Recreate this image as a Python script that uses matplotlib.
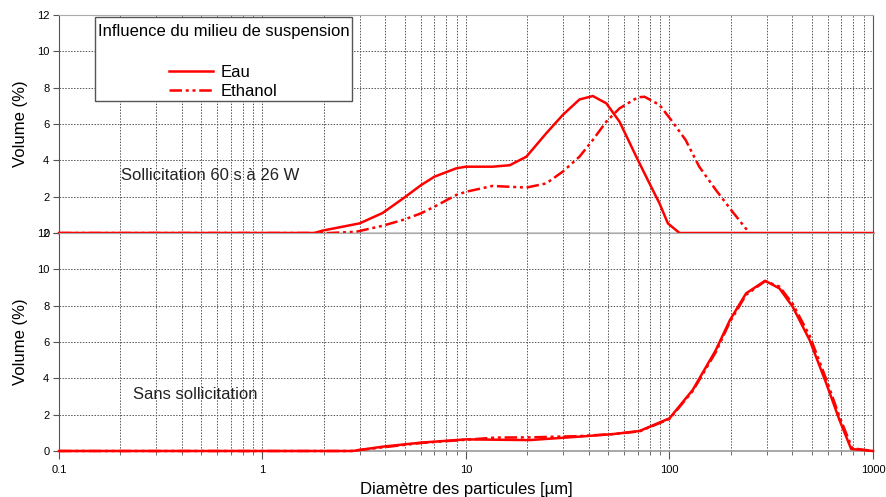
import matplotlib.pyplot as plt
from matplotlib.patches import Rectangle
from matplotlib.ticker import LogLocator, NullFormatter, FixedLocator

plt.rcParams['font.family'] = ['Liberation Sans', 'DejaVu Sans']

# particle size distributions, diameter in um, volume in %
d_eau_us = [0.1, 1.8, 1.97, 3.0, 3.89, 4.99, 6.02, 7.0, 8.95, 10, 13.5, 16.4, 19.8,
            24.8, 29.9, 36.1, 42.0, 48.9, 56.8, 69.9, 81.2, 89.3, 98.2, 112, 1000]
v_eau_us = [0, 0, 0.13, 0.53, 1.1, 1.96, 2.64, 3.1, 3.56, 3.65, 3.65, 3.73, 4.2,
            5.49, 6.5, 7.35, 7.54, 7.14, 6.13, 4.02, 2.55, 1.63, 0.53, 0.0, 0]

d_eth_us = [0.1, 2.13, 2.89, 3.9, 5.0, 6.0, 7.0, 8.95, 10, 13.5, 19.8, 24.8, 29.9,
            36.1, 42.0, 48.9, 56.8, 69.9, 75.4, 89.3, 101.9, 120, 140, 169, 204, 247]
v_eth_us = [0, 0, 0.07, 0.4, 0.75, 1.08, 1.45, 2.09, 2.27, 2.59, 2.5, 2.73, 3.38,
            4.2, 5.12, 6.13, 6.86, 7.47, 7.5, 7.05, 6.22, 5.12, 3.65, 2.37, 1.17, 0.0]
d_eth_us_tail = [247, 1000]
v_eth_us_tail = [0, 0]

d_eau_ss = [0.1, 2.77, 3.9, 6.0, 10, 20.5, 36, 52.7, 71.2, 100, 130, 169, 198,
            238, 295, 347, 403, 488, 589, 684, 781, 1000]
v_eau_ss = [0, 0, 0.24, 0.46, 0.64, 0.6, 0.79, 0.93, 1.1, 1.8, 3.36, 5.56, 7.2,
            8.68, 9.37, 8.95, 7.94, 6.11, 3.73, 1.71, 0.11, 0]

d_eth_ss = [0.1, 2.7, 3.9, 6.0, 10, 14, 20.5, 36, 52.7, 71.2, 100, 130, 169, 198,
            238, 295, 347, 403, 488, 589, 684, 790, 1000]
v_eth_ss = [0, 0, 0.2, 0.44, 0.62, 0.74, 0.75, 0.82, 0.93, 1.08, 1.76, 3.3, 5.45,
            7.1, 8.6, 9.35, 9.05, 8.1, 6.35, 3.95, 1.9, 0.15, 0]

legend_title = 'Influence du milieu de suspension'
label_top = 'Sollicitation 60 s à 26 W'
label_bottom = 'Sans sollicitation'

RED = '#ff0000'
DASH_DOT_DOT = (0, (5, 1.5, 1.2, 1.5, 1.2, 1.5))

fig = plt.figure(figsize=(8.87, 4.97), dpi=100)
ax_top = fig.add_axes((59 / 887, 1 - 233 / 497, 814 / 887, 218 / 497))
ax_bot = fig.add_axes((59 / 887, 1 - 451 / 497, 814 / 887, 218 / 497), sharex=ax_top)

for ax in (ax_top, ax_bot):
    ax.set_xscale('log')
    ax.set_xlim(0.1, 1000)
    ax.set_ylim(0, 12)
    ax.set_yticks(range(0, 13, 2))
    ax.xaxis.set_major_locator(FixedLocator([0.1, 1, 10, 100, 1000]))
    ax.xaxis.set_minor_locator(LogLocator(base=10, subs=range(2, 10)))
    ax.xaxis.set_minor_formatter(NullFormatter())
    ax.grid(True, which='both', axis='x', color='#555555', ls=(0, (1.5, 1.5)), lw=0.7)
    ax.grid(True, which='major', axis='y', color='#555555', ls=(0, (1.5, 1.5)), lw=0.7)
    ax.set_axisbelow(True)
    ax.tick_params(axis='y', labelsize=8, length=4, color='#555555', width=0.8, pad=3)
    ax.tick_params(axis='x', which='major', labelsize=8, length=6, color='#555555', pad=4)
    ax.tick_params(axis='x', which='minor', length=3, color='#555555')
    ax.spines['left'].set_color('#555555')
    ax.spines['right'].set_color('#555555')
    ax.spines['top'].set_color('#aaaaaa')
    ax.spines['bottom'].set_color('#999999')
    ax.spines['bottom'].set_linewidth(1.2)
    ax.set_ylabel('Volume (%)', fontsize=12, labelpad=6)

ax_top.tick_params(axis='x', which='both', labelbottom=False, bottom=False)
ax_top.spines['bottom'].set_color('black')
ax_top.spines['bottom'].set_linewidth(1.0)

ax_top.plot(d_eau_us, v_eau_us, color=RED, lw=1.8, label='Eau', clip_on=False, zorder=3)
ax_top.plot(d_eth_us, v_eth_us, color=RED, lw=1.8, ls=DASH_DOT_DOT, label='Ethanol', zorder=3)
ax_top.plot(d_eth_us_tail, v_eth_us_tail, color=RED, lw=1.8, ls=DASH_DOT_DOT,
            clip_on=False, zorder=3)

ax_bot.plot(d_eau_ss, v_eau_ss, color=RED, lw=1.8, clip_on=False, zorder=3)
ax_bot.plot(d_eth_ss, v_eth_ss, color=RED, lw=1.8, ls=DASH_DOT_DOT, clip_on=False, zorder=3)

ax_bot.set_xticklabels(['0.1', '1', '10', '100', '1000'])
ax_bot.set_xlabel('Diamètre des particules [µm]', fontsize=12, labelpad=5)

ax_top.text(0.076, 0.265, label_top, transform=ax_top.transAxes, fontsize=12,
            va='center', ha='left', color='#222222')
ax_bot.text(0.091, 0.258, label_bottom, transform=ax_bot.transAxes, fontsize=12,
            va='center', ha='left', color='#222222')

# legend box drawn by hand so it hugs the title
box = Rectangle((0.0442, 0.6055), 0.3158, 0.3853, transform=ax_top.transAxes,
                facecolor='white', edgecolor='#555555', lw=1.0, zorder=4)
ax_top.add_patch(box)
leg = ax_top.legend(title=legend_title + '\n', loc='upper center',
                    bbox_to_anchor=(0.202, 0.957), fontsize=12, title_fontsize=12,
                    frameon=False, handlelength=2.6, handletextpad=0.5,
                    labelspacing=0.25, borderpad=0, borderaxespad=0)
leg.get_title().set_linespacing(1.5)
leg.set_zorder(5)

fig.savefig('out.png', dpi=100)
